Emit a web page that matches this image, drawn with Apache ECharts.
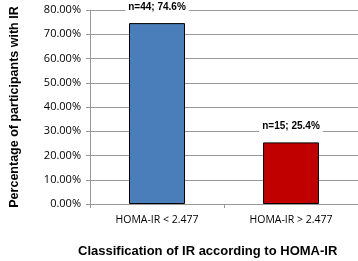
<!DOCTYPE html>
<html>
<head>
<meta charset="utf-8">
<script src="https://cdn.jsdelivr.net/npm/echarts@6/dist/echarts.min.js"></script>
<style>
  html, body { margin: 0; padding: 0; background: #fff; }
  #chart { width: 358px; height: 261px; }
</style>
</head>
<body>
<div id="chart"></div>
<script>
var categories = ['HOMA-IR < 2.477', 'HOMA-IR > 2.477'];
var percentValues = [74.6, 25.4];
var counts = [44, 15];
var barColors = ['#4a7ebb', '#c00000'];

var chart = echarts.init(document.getElementById('chart'));
chart.setOption({
  animation: false,
  title: {
    text: 'Classification of IR according to HOMA-IR',
    left: 78,
    top: 245,
    textStyle: { fontFamily: 'Liberation Sans', fontWeight: 'bold', fontSize: 13, color: '#000' },
    padding: 0
  },
  grid: { left: 83, right: 0, top: 10, bottom: 57 },
  xAxis: {
    type: 'category',
    data: categories,
    axisLine: { lineStyle: { color: '#999', width: 1 } },
    axisTick: { show: true, length: 4, lineStyle: { color: '#999' } },
    axisLabel: { color: '#000', fontSize: 10.5, fontFamily: 'Open Sans', margin: 11 }
  },
  yAxis: {
    type: 'value',
    min: 0,
    max: 80,
    interval: 10,
    name: 'Percentage of participants with IR',
    nameLocation: 'middle',
    nameGap: 69,
    nameTextStyle: { fontFamily: 'Liberation Sans', fontWeight: 'bold', fontSize: 12.5, color: '#000' },
    axisLine: { show: true, lineStyle: { color: '#999' } },
    axisTick: { show: true, length: 4, lineStyle: { color: '#999' } },
    axisLabel: {
      color: '#000', fontSize: 11, fontFamily: 'Open Sans', margin: 9,
      formatter: function (v) { return v.toFixed(2) + '%'; }
    },
    splitLine: { lineStyle: { color: '#999', width: 1 } }
  },
  series: [{
    type: 'bar',
    barWidth: 56,
    data: percentValues.map(function (v, i) {
      return { value: v, itemStyle: { color: barColors[i] } };
    }),
    itemStyle: { borderColor: '#000', borderWidth: 1 },
    label: {
      show: true,
      position: 'top',
      distance: 10,
      backgroundColor: '#fff',
      padding: [1, 3],
      color: '#000',
      fontFamily: 'Liberation Sans',
      fontWeight: 'bold',
      fontSize: 10,
      formatter: function (p) { return 'n=' + counts[p.dataIndex] + '; ' + p.value.toFixed(1) + '%'; }
    }
  }]
});
</script>
</body>
</html>
